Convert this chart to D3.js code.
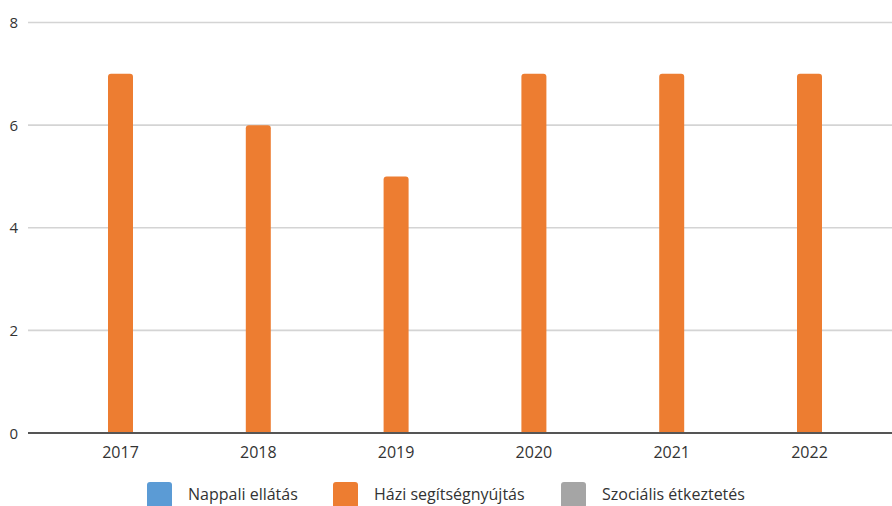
<!DOCTYPE html>
<html>
<head>
<meta charset="utf-8">
<script src="https://cdn.jsdelivr.net/npm/d3@7"></script>
<style>
  body { margin: 0; background: #fff; }
  text { font-family: "Open Sans", sans-serif; fill: #333; }
</style>
</head>
<body>
<script>
const years = ["2017", "2018", "2019", "2020", "2021", "2022"];
const seriesNames = ["Nappali ellátás", "Házi segítségnyújtás", "Szociális étkeztetés"];
const nappali = [0, 0, 0, 0, 0, 0];
const hazi = [7, 6, 5, 7, 7, 7];
const szocialis = [0, 0, 0, 0, 0, 0];
const yTicks = [0, 2, 4, 6, 8];
const colors = ["#5b9bd5", "#ed7d31", "#a5a5a5"];

function main() {
    let svg = d3.select("body").append("svg")
        .attr("width", 892)
        .attr("height", 506);

    let x = d3.scaleBand().domain(years).range([51.6, 878.4]);
    let xs = d3.scaleBand().domain(seriesNames).range([0, x.bandwidth()]).paddingInner(0).paddingOuter(1.256);
    let y = d3.scaleLinear().domain([0, 8]).range([433, 22.5]);

    // gridlines + y labels
    svg.append("g").selectAll("line").data(yTicks).join("line")
        .attr("x1", 28).attr("x2", 892)
        .attr("y1", d => y(d)).attr("y2", d => y(d))
        .attr("stroke", "#d4d4d4")
        .attr("stroke-width", 1.6);

    svg.append("g").selectAll("text").data(yTicks).join("text")
        .attr("x", 18).attr("y", d => y(d) + 5.5)
        .attr("text-anchor", "end")
        .style("font-size", "15px")
        .text(d => d);

    let all = [nappali, hazi, szocialis];
    let bars = [];
    years.forEach((yr, i) => {
        seriesNames.forEach((s, j) => {
            if (all[j][i] > 0) bars.push({ yr: yr, s: s, v: all[j][i], c: colors[j] });
        });
    });

    let r = 3;
    svg.append("g").selectAll("path").data(bars).join("path")
        .attr("fill", d => d.c)
        .attr("d", d => {
            let x0 = x(d.yr) + xs(d.s), w = xs.bandwidth();
            let y0 = y(d.v), y1 = y(0);
            return `M${x0},${y1} V${y0 + r} Q${x0},${y0} ${x0 + r},${y0} H${x0 + w - r} Q${x0 + w},${y0} ${x0 + w},${y0 + r} V${y1} Z`;
        });

    // baseline
    svg.append("line")
        .attr("x1", 28).attr("x2", 892)
        .attr("y1", y(0)).attr("y2", y(0))
        .attr("stroke", "#555")
        .attr("stroke-width", 1.8);

    svg.append("g").selectAll("text").data(years).join("text")
        .attr("x", d => x(d) + x.bandwidth() / 2)
        .attr("y", 458)
        .attr("text-anchor", "middle")
        .style("font-size", "16px")
        .text(d => d);

    // legend
    let legendX = [147, 333, 561];
    let lg = svg.append("g").selectAll("g").data(seriesNames).join("g")
        .attr("transform", (d, i) => `translate(${legendX[i]},482)`);
    lg.append("rect")
        .attr("width", 25).attr("height", 26).attr("rx", 3)
        .attr("fill", (d, i) => colors[i]);
    lg.append("text")
        .attr("x", 41).attr("y", 18)
        .style("font-size", "16px")
        .text(d => d);
}

main()
</script>
</body>
</html>
